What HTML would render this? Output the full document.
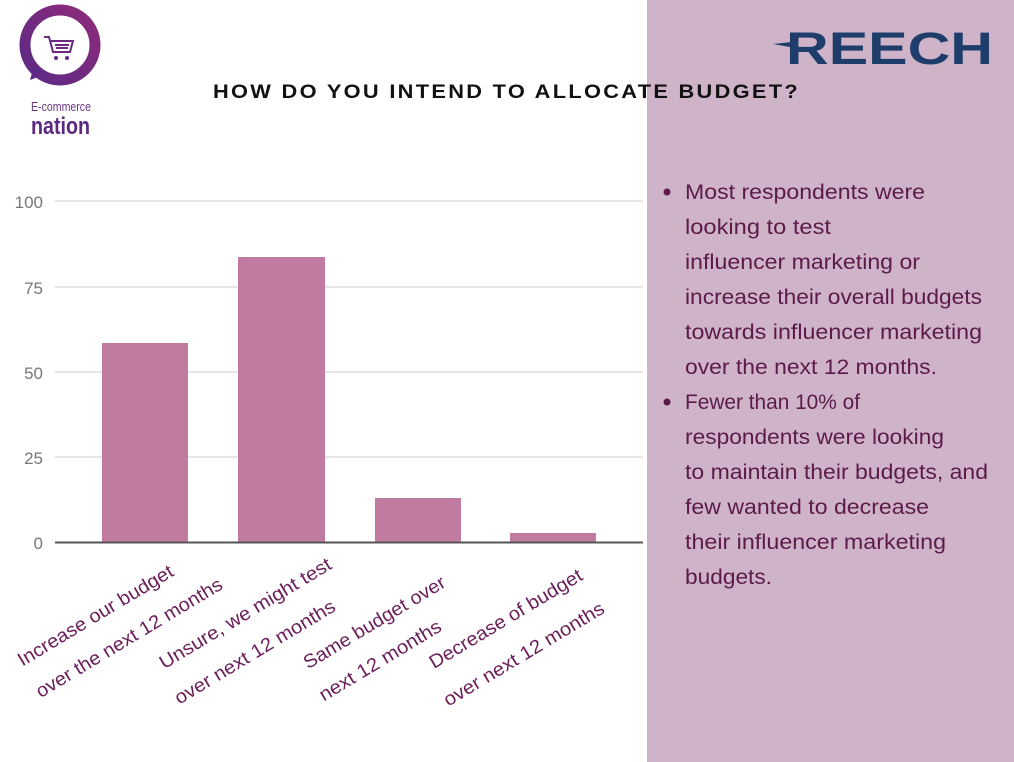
<!DOCTYPE html>
<html><head><meta charset="utf-8"><style>
html,body{margin:0;padding:0;background:#fff;}
svg{display:block;}
</style></head><body>
<svg width="1014" height="762" xmlns="http://www.w3.org/2000/svg" font-family="Liberation Sans, sans-serif">
<rect x="0" y="0" width="1014" height="762" fill="#fff"/>
<rect x="647" y="0" width="367" height="762" fill="#cfb4c9"/>
<defs><linearGradient id="g" x1="0" y1="1" x2="1" y2="0"><stop offset="0" stop-color="#5b2a86"/><stop offset="1" stop-color="#8e2a7a"/></linearGradient></defs>
<circle cx="60" cy="45" r="35" fill="none" stroke="url(#g)" stroke-width="11"/>
<path d="M34 66 L30 80 L46 74 Z" fill="#5e2a85"/>
<circle cx="60" cy="45" r="29" fill="#fff"/>
<g stroke="#6b2a80" stroke-width="2" fill="none"><path d="M44 37 L49 37 L53 52 L70 52 L73 41 L50 41"/><line x1="55" y1="45" x2="69" y2="45"/><line x1="56" y1="48" x2="68" y2="48"/></g>
<circle cx="56" cy="58" r="2" fill="#6b2a80"/><circle cx="67" cy="58" r="2" fill="#6b2a80"/>
<text x="31" y="111" font-size="13" fill="#6a3585" textLength="60" lengthAdjust="spacingAndGlyphs">E-commerce</text>
<text x="31" y="134" font-size="24" font-weight="bold" fill="#5b2a80" textLength="59" lengthAdjust="spacingAndGlyphs">nation</text>
<path d="M773 44 L792 42 L790 47 Z" fill="#1f3d6b"/>
<text x="786" y="64" font-size="45" font-weight="bold" fill="#1f3d6b" textLength="207" lengthAdjust="spacingAndGlyphs">REECH</text>
<text x="213" y="98" font-size="19" font-weight="bold" fill="#111" letter-spacing="2" textLength="587" lengthAdjust="spacingAndGlyphs">HOW DO YOU INTEND TO ALLOCATE BUDGET?</text>
<g stroke="#ddd" stroke-width="1.5">
<line x1="55" y1="201" x2="643" y2="201"/><line x1="55" y1="287" x2="643" y2="287"/>
<line x1="55" y1="372" x2="643" y2="372"/><line x1="55" y1="457" x2="643" y2="457"/>
</g>
<g font-size="17" fill="#777" text-anchor="end">
<text x="43" y="208">100</text><text x="43" y="294">75</text><text x="43" y="379">50</text><text x="43" y="464">25</text><text x="43" y="549">0</text>
</g>
<g fill="#c27ba0">
<rect x="102" y="343" width="86" height="199"/>
<rect x="238" y="257" width="87" height="285"/>
<rect x="375" y="498" width="86" height="44"/>
<rect x="510" y="533" width="86" height="9"/>
</g>
<line x1="55" y1="542.5" x2="643" y2="542.5" stroke="#555" stroke-width="2"/>
<g font-size="19" fill="#6b1d5a" text-anchor="end">
<text transform="translate(175,575) rotate(-31)" textLength="178" lengthAdjust="spacingAndGlyphs">Increase our budget</text>
<text transform="translate(224,588) rotate(-31)" textLength="214" lengthAdjust="spacingAndGlyphs">over the next 12 months</text>
<text transform="translate(333,568) rotate(-31)" textLength="197" lengthAdjust="spacingAndGlyphs">Unsure, we might test</text>
<text transform="translate(337,610) rotate(-31)" textLength="184" lengthAdjust="spacingAndGlyphs">over next 12 months</text>
<text transform="translate(447,586) rotate(-31)" textLength="162" lengthAdjust="spacingAndGlyphs">Same budget over</text>
<text transform="translate(443,630) rotate(-31)" textLength="139" lengthAdjust="spacingAndGlyphs">next 12 months</text>
<text transform="translate(584,579) rotate(-31)" textLength="175" lengthAdjust="spacingAndGlyphs">Decrease of budget</text>
<text transform="translate(606,612) rotate(-31)" textLength="184" lengthAdjust="spacingAndGlyphs">over next 12 months</text>
</g>
<circle cx="667" cy="192" r="3.5" fill="#5c1a4a"/>
<circle cx="667" cy="402" r="3.5" fill="#5c1a4a"/>
<g font-size="21" fill="#5c1a4a">
<text x="685" y="199" textLength="240" lengthAdjust="spacingAndGlyphs">Most respondents were</text>
<text x="685" y="234" textLength="146" lengthAdjust="spacingAndGlyphs">looking to test</text>
<text x="685" y="269" textLength="235" lengthAdjust="spacingAndGlyphs">influencer marketing or</text>
<text x="685" y="304" textLength="297" lengthAdjust="spacingAndGlyphs">increase their overall budgets</text>
<text x="685" y="339" textLength="297" lengthAdjust="spacingAndGlyphs">towards influencer marketing</text>
<text x="685" y="374" textLength="252" lengthAdjust="spacingAndGlyphs">over the next 12 months.</text>
<text x="685" y="409" textLength="175" lengthAdjust="spacingAndGlyphs">Fewer than 10% of</text>
<text x="685" y="444" textLength="259" lengthAdjust="spacingAndGlyphs">respondents were looking</text>
<text x="685" y="479" textLength="303" lengthAdjust="spacingAndGlyphs">to maintain their budgets, and</text>
<text x="685" y="514" textLength="244" lengthAdjust="spacingAndGlyphs">few wanted to decrease</text>
<text x="685" y="549" textLength="261" lengthAdjust="spacingAndGlyphs">their influencer marketing</text>
<text x="685" y="584" textLength="87" lengthAdjust="spacingAndGlyphs">budgets.</text>
</g>
</svg>
</body></html>
